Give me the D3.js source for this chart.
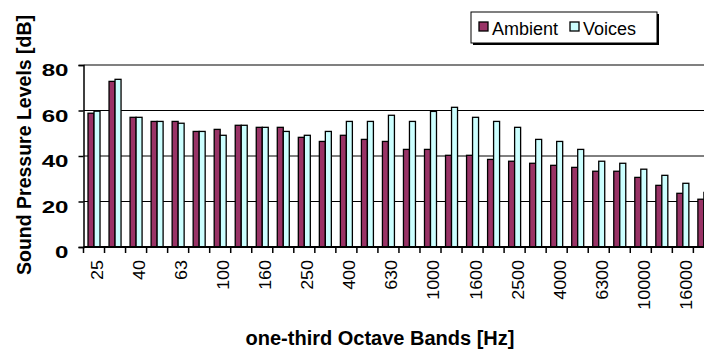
<!DOCTYPE html>
<html><head><meta charset="utf-8">
<script src="https://cdn.jsdelivr.net/npm/d3@7"></script>
<style>body{margin:0;background:#fff;overflow:hidden}svg{display:block}text{font-family:"Liberation Sans",Arial,sans-serif}</style>
</head><body>
<script>
const categories = ["25","31.5","40","50","63","80","100","125","160","200","250","315","400","500","630","800","1000","1250","1600","2000","2500","3150","4000","5000","6300","8000","10000","12500","16000","20000"];
const ambient = [58.8,72.8,57.0,55.2,55.2,50.8,51.7,53.5,52.6,52.6,48.2,46.4,49.1,47.3,46.4,42.9,42.9,40.3,40.3,38.5,37.7,36.8,35.9,35.0,33.3,33.3,30.6,27.1,23.6,21.0];
const voices = [59.7,73.7,57.0,55.2,54.4,50.8,49.1,53.5,52.6,50.8,49.1,50.8,55.2,55.2,57.9,55.2,59.6,61.4,57.0,55.2,52.6,47.3,46.4,42.9,37.7,36.8,34.2,31.5,28.0,24.0];
const yTicks = [0,20,40,60,80];
const seriesNames = ["Ambient","Voices"];
const colors = ["#993366","#CCFFFF"];

const W = 704, H = 354;
const svg = d3.select("body").append("svg").attr("width", W).attr("height", H);

const x0 = 83.5, bw = 21.03;
const x = d3.scaleBand().domain(categories).range([x0, x0 + bw * categories.length]).paddingInner(0).paddingOuter(0);
const y = d3.scaleLinear().domain([0, 80]).range([247, 65]);
const barW = 6;

// gridlines
svg.append("g").selectAll("line").data(yTicks.filter(d => d > 0 && d < 80)).join("line")
  .attr("x1", x0).attr("x2", W).attr("y1", d => y(d)).attr("y2", d => y(d))
  .attr("stroke", "#000").attr("stroke-width", 1);
svg.append("line").attr("x1", x0).attr("x2", W).attr("y1", y(80)).attr("y2", y(80))
  .attr("stroke", "#808080").attr("stroke-width", 2);

// bars
const data = categories.map((c, i) => ({c, vals: [ambient[i], voices[i]]}));
const groups = svg.append("g").selectAll("g").data(data).join("g");
groups.selectAll("rect").data(d => d.vals.map((v, k) => ({c: d.c, v, k}))).join("rect")
  .attr("x", d => x(d.c) + x.bandwidth() / 2 - barW + d.k * barW)
  .attr("y", d => y(d.v))
  .attr("width", barW)
  .attr("height", d => y(0) - y(d.v))
  .attr("fill", d => colors[d.k])
  .attr("stroke", "#000").attr("stroke-width", 1.3);

// y axis
const yAxis = svg.append("g").attr("transform", `translate(${x0},0)`)
  .call(d3.axisLeft(y).tickValues(yTicks).tickSize(5).tickPadding(6).tickFormat(d3.format("d")));
yAxis.select(".domain").attr("stroke", "#000").attr("stroke-width", 1.5);
yAxis.selectAll(".tick line").attr("stroke", "#000").attr("stroke-width", 1.5);
yAxis.selectAll(".tick text").remove();
yAxis.selectAll(".tick").append("text")
  .attr("transform", "translate(-15,10.5) scale(1.42,1)")
  .attr("text-anchor", "end")
  .attr("font-size", 17).attr("font-weight", "bold").attr("fill", "#000")
  .text(d => d3.format("d")(d));

// x axis baseline and ticks at category boundaries
svg.append("line").attr("x1", x0).attr("x2", W).attr("y1", y(0)).attr("y2", y(0))
  .attr("stroke", "#000").attr("stroke-width", 2);
svg.append("g").selectAll("line").data(categories).join("line")
  .attr("x1", d => x(d)).attr("x2", d => x(d))
  .attr("y1", y(0)).attr("y2", y(0) + 6)
  .attr("stroke", "#000").attr("stroke-width", 1.5);

// x labels (every other)
svg.append("g").selectAll("text").data(categories.filter((d, i) => i % 2 === 0)).join("text")
  .attr("transform", d => `translate(${x(d) + x.bandwidth() / 2 + 9},260) rotate(-90) scale(1.12,1)`)
  .attr("text-anchor", "end")
  .attr("font-size", 16)
  .attr("fill", "#000")
  .text(d => d);

// axis titles
svg.append("text")
  .attr("transform", `translate(31,145) rotate(-90)`)
  .attr("text-anchor", "middle")
  .attr("font-size", 19.5).attr("font-weight", "bold")
  .text("Sound Pressure Levels [dB]");
svg.append("text")
  .attr("x", 380).attr("y", 345)
  .attr("text-anchor", "middle")
  .attr("font-size", 20).attr("font-weight", "bold")
  .text("one-third Octave Bands [Hz]");

// legend
const lg = svg.append("g");
lg.append("rect").attr("x", 473).attr("y", 14).attr("width", 186).attr("height", 31).attr("fill", "#000");
lg.append("rect").attr("x", 471).attr("y", 12).attr("width", 186).attr("height", 31)
  .attr("fill", "#fff").attr("stroke", "#000").attr("stroke-width", 1);
const legX = [479, 570];
const li = lg.selectAll("g.item").data(seriesNames).join("g").attr("class", "item")
  .attr("transform", (d, i) => `translate(${legX[i]},0)`);
li.append("rect").attr("x", 0).attr("y", 22).attr("width", 9).attr("height", 9)
  .attr("fill", (d, i) => colors[i]).attr("stroke", "#000").attr("stroke-width", 1.3);
li.append("text").attr("x", 13).attr("y", 35).attr("font-size", 18).attr("fill", "#000")
  .text(d => d);
</script>
</body></html>
